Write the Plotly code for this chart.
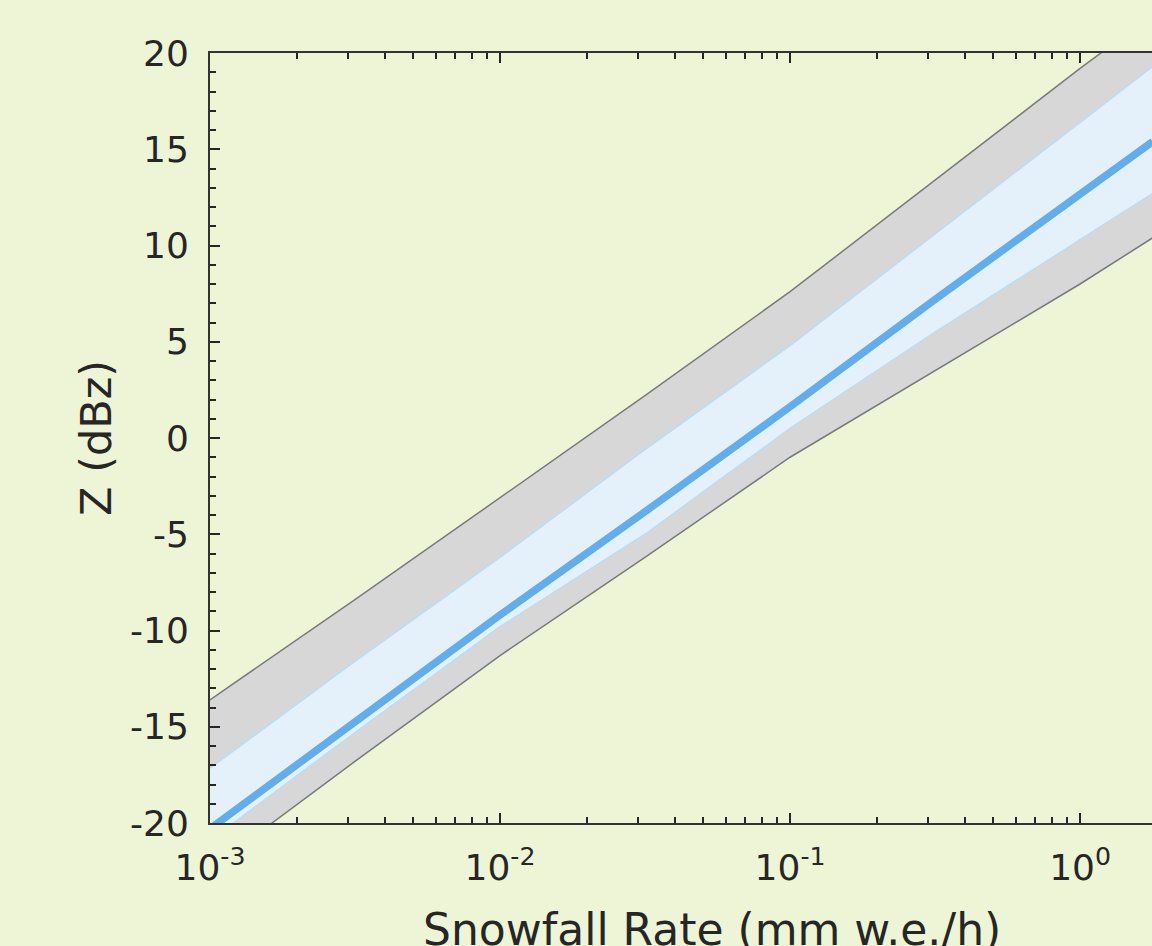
import plotly.graph_objects as go

# Snowfall rate (mm w.e./h) sample points (log spaced)
rate = [0.001, 0.00316, 0.01, 0.0316, 0.1, 0.316, 1.0, 1.78]
# Central Z-S relation (dBz)
z_center = [-20.3, -14.7, -9.2, -3.83, 1.62, 7.2, 12.6, 15.4]
# Outer (gray) uncertainty envelope
z_outer_upper = [-13.6, -8.4, -3.1, 2.2, 7.6, 13.4, 19.2, 22.0]
z_outer_lower = [-22.4, -16.8, -11.3, -6.2, -1.0, 3.5, 8.0, 10.4]
# Inner (light blue) uncertainty envelope
z_inner_upper = [-17.15, -11.6, -6.2, -0.6, 4.8, 10.6, 16.4, 19.3]
z_inner_lower = [-20.9, -15.3, -9.8, -5.0, 0.5, 5.5, 10.3, 12.7]

x_tickvals = [0.001, 0.01, 0.1, 1]
x_ticktext = ["10<sup>-3</sup>", "10<sup>-2</sup>", "10<sup>-1</sup>", "10<sup>0</sup>"]
y_tickvals = [-20, -15, -10, -5, 0, 5, 10, 15, 20]
y_ticktext = ["-20", "-15", "-10", "-5", "0", "5", "10", "15", "20"]

BG = "#EDF5D6"
TXT = "#262626"
FONT = "DejaVu Sans"

fig = go.Figure()
fig.add_trace(go.Scatter(x=rate, y=z_outer_upper, mode="lines",
                         line=dict(color="#7A7A7A", width=1.5), showlegend=False))
fig.add_trace(go.Scatter(x=rate, y=z_outer_lower, mode="lines", fill="tonexty",
                         fillcolor="#D7D7D7",
                         line=dict(color="#7A7A7A", width=1.5), showlegend=False))
fig.add_trace(go.Scatter(x=rate, y=z_inner_upper, mode="lines",
                         line=dict(color="#BCDCF3", width=1.5), showlegend=False))
fig.add_trace(go.Scatter(x=rate, y=z_inner_lower, mode="lines", fill="tonexty",
                         fillcolor="#E4F1FB",
                         line=dict(color="#BCDCF3", width=1.5), showlegend=False))
fig.add_trace(go.Scatter(x=rate, y=z_center, mode="lines",
                         line=dict(color="#61ADEE", width=7.5), showlegend=False))

fig.update_layout(
    width=1152, height=946,
    margin=dict(l=210, r=0, t=53, b=123),
    paper_bgcolor=BG, plot_bgcolor=BG,
    font=dict(family=FONT, color=TXT, size=36),
    showlegend=False,
)
fig.update_xaxes(
    type="log", range=[-3, 0.248],
    tickmode="array", tickvals=x_tickvals, ticktext=x_ticktext,
    ticks="inside", ticklen=10, tickwidth=1.5, tickcolor=TXT,
    showline=True, linecolor="#333333", linewidth=2, mirror="ticks",
    showgrid=False, zeroline=False,
    tickfont=dict(size=36, family=FONT, color=TXT),
    ticklabelstandoff=12,
    minor=dict(ticks="inside", ticklen=6, tickwidth=1.5, tickcolor=TXT,
               dtick="D1", showgrid=False),
)
fig.update_yaxes(
    range=[-20, 20],
    tickmode="array", tickvals=y_tickvals, ticktext=y_ticktext,
    ticks="inside", ticklen=10, tickwidth=1.5, tickcolor=TXT,
    showline=True, linecolor="#333333", linewidth=2, mirror=False,
    showgrid=False, zeroline=False,
    tickfont=dict(size=36, family=FONT, color=TXT),
    ticklabelstandoff=12,
    minor=dict(ticks="inside", ticklen=6, tickwidth=1.5, tickcolor=TXT,
               dtick=1, tick0=0, showgrid=False),
)

# axis titles (placed as annotations to match original framing)
fig.add_annotation(text="Snowfall Rate (mm w.e./h)", xref="paper", yref="paper",
                   x=(712 - 210) / 942, y=-(929 - 823) / 770,
                   xanchor="center", yanchor="middle", showarrow=False,
                   font=dict(size=44, family=FONT, color=TXT))
fig.add_annotation(text="Z (dBz)", xref="paper", yref="paper",
                   x=(96 - 210) / 942, y=0.5, textangle=-90,
                   xanchor="center", yanchor="middle", showarrow=False,
                   font=dict(size=43, family=FONT, color=TXT))

fig.write_html("out.html", config={"displayModeBar": False})

# remove default page margins so the figure fills the window exactly
with open("out.html", "r", encoding="utf-8") as f:
    html = f.read()
html = html.replace("<head>", "<head><style>html,body{margin:0;padding:0;overflow:hidden;}</style>", 1)
with open("out.html", "w", encoding="utf-8") as f:
    f.write(html)
